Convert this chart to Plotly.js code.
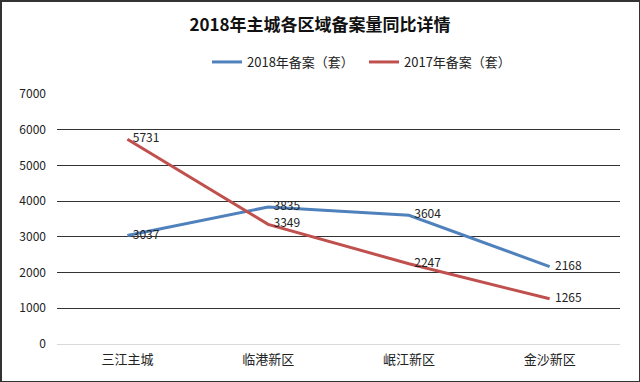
<!DOCTYPE html>
<html><head><meta charset="utf-8">
<script src="https://cdn.plot.ly/plotly-3.0.1.min.js"></script>
<style>html,body{margin:0;padding:0;background:#fff}#wrap{position:relative;width:640px;height:382px}#frame{position:absolute;left:0;top:0;width:640px;height:382px;box-sizing:border-box;border:2px solid #333;border-right-width:1px;border-bottom-width:1px;pointer-events:none}</style>
</head><body>
<div id="wrap"><div id="chart" style="width:640px;height:382px"></div><div id="frame"></div></div>
<script>
const categories = ['三江主城', '临港新区', '岷江新区', '金沙新区'];
const series2018 = [3037, 3835, 3604, 2168];
const series2017 = [5731, 3349, 2247, 1265];
const name2018 = '2018年备案（套）';
const name2017 = '2017年备案（套）';
const titleText = '2018年主城各区域备案量同比详情';
const yTicks = [0, 1000, 2000, 3000, 4000, 5000, 6000, 7000];

const font = "'Noto Sans CJK SC', 'Noto Sans', sans-serif";
const pad = '\u00a0\u00a0';
const traces = [
  {x: categories, y: series2018, name: name2018, type: 'scatter', mode: 'lines+text',
   line: {color: '#4F81BD', width: 3}, text: series2018.map(v => pad + v), textposition: 'middle right',
   textfont: {size: 12, color: '#222', family: font}},
  {x: categories, y: series2017, name: name2017, type: 'scatter', mode: 'lines+text',
   line: {color: '#C0504D', width: 3}, text: series2017.map(v => pad + v), textposition: 'middle right',
   textfont: {size: 12, color: '#222', family: font}}
];
const layout = {
  width: 640, height: 382,
  margin: {l: 57, r: 20, t: 94, b: 38},
  paper_bgcolor: '#fff', plot_bgcolor: '#fff',
  font: {family: font, color: '#222'},
  title: {text: '<b>' + titleText + '</b>', x: 0.5, xanchor: 'center', y: 0.935, yanchor: 'middle',
          font: {size: 17, color: '#111', family: font}},
  showlegend: true,
  legend: {orientation: 'h', x: (207 - 57) / 563, xanchor: 'left', y: 1.128, yanchor: 'middle',
           font: {size: 13, color: '#222', family: font}, itemwidth: 30, entrywidth: 112, entrywidthmode: 'pixels',
           traceorder: 'normal'},
  xaxis: {type: 'category', range: [-0.5, 3.5], showgrid: false, zeroline: false,
          showline: false, ticks: '', tickfont: {size: 13, color: '#222', family: font}, ticklabelstandoff: 6},
  yaxis: {range: [0, 7000], tickvals: yTicks, showgrid: true, gridcolor: '#333', gridwidth: 1,
          zeroline: true, zerolinecolor: '#d9d9d9', zerolinewidth: 1, showline: false, ticks: '',
          tickfont: {size: 12, color: '#222', family: font}, ticklabelstandoff: 10}
};
Plotly.newPlot('chart', traces, layout, {staticPlot: true});
</script>
</body></html>
